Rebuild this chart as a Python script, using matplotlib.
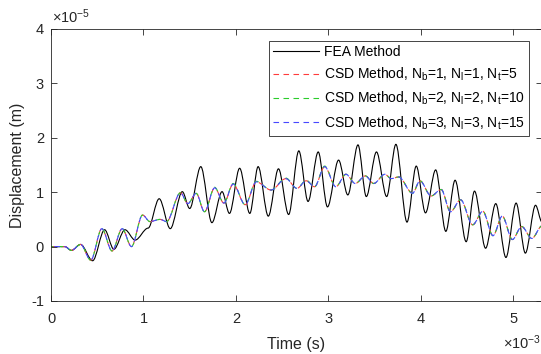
import matplotlib
matplotlib.use("Agg")
import matplotlib.pyplot as plt
from matplotlib.path import Path
from matplotlib.patches import PathPatch
from matplotlib.lines import Line2D

plt.rcParams['font.family'] = ['Liberation Sans', 'DejaVu Sans']
plt.rcParams['mathtext.fontset'] = 'custom'
plt.rcParams['mathtext.rm'] = 'Liberation Sans'
plt.rcParams['mathtext.it'] = 'Liberation Sans'
plt.rcParams['mathtext.bf'] = 'Liberation Sans:bold'

# ---- data (time in 1e-3 s, displacement in 1e-5 m), extrema ----
fea_t = [0, 0.15, 0.22, 0.32, 0.45, 0.58, 0.68, 0.80, 0.91, 1.05, 1.17, 1.29, 1.42, 1.50,
         1.62, 1.74, 1.85, 1.93, 2.04, 2.15, 2.24, 2.35, 2.46, 2.57, 2.68, 2.78, 2.89, 2.99,
         3.11, 3.21, 3.32, 3.41, 3.52, 3.63, 3.73, 3.85, 3.95, 4.05, 4.16, 4.27, 4.37, 4.49,
         4.58, 4.70, 4.81, 4.92, 5.03, 5.13, 5.24, 5.31]
fea_y = [0, 0, -0.07, 0.04, -0.26, 0.31, -0.05, 0.31, 0.12, 0.34, 0.88, 0.33, 1.01, 0.70,
         1.47, 0.44, 1.01, 0.61, 1.44, 0.61, 1.47, 0.56, 1.43, 0.59, 1.76, 0.83, 1.74, 0.73,
         1.59, 0.95, 1.87, 0.92, 1.74, 0.92, 1.88, 0.45, 1.48, 0.62, 1.41, 0.28, 1.22, 0.09,
         1.02, -0.03, 0.79, -0.20, 0.80, -0.12, 0.76, 0.45]

csd_t = [0, 0.15, 0.22, 0.32, 0.43, 0.55, 0.66, 0.77, 0.87, 0.99, 1.07, 1.18, 1.25, 1.40,
         1.48, 1.57, 1.66, 1.77, 1.87, 1.97, 2.10, 2.22, 2.38, 2.54, 2.66, 2.76, 2.85, 2.96,
         3.08, 3.19, 3.29, 3.40, 3.49, 3.61, 3.68, 3.76, 3.91, 3.99, 4.11, 4.22, 4.32, 4.43,
         4.56, 4.67, 4.78, 4.88, 4.99, 5.09, 5.20, 5.31]
csd1_y = [0, 0, -0.07, 0.04, -0.25, 0.33, -0.08, 0.33, 0.0, 0.58, 0.46, 0.50, 0.46, 0.99,
          0.79, 0.98, 0.64, 1.08, 0.80, 1.15, 0.77, 1.19, 1.04, 1.25, 1.07, 1.21, 1.10, 1.47,
          1.10, 1.33, 1.16, 1.30, 1.16, 1.33, 1.25, 1.28, 0.98, 1.21, 0.93, 1.05, 0.64, 0.86,
          0.40, 0.65, 0.20, 0.56, 0.13, 0.37, 0.15, 0.38]
csd2_y = [0, 0, -0.07, 0.04, -0.25, 0.33, -0.08, 0.33, 0.0, 0.58, 0.46, 0.50, 0.46, 0.99,
          0.79, 0.98, 0.64, 1.09, 0.80, 1.16, 0.77, 1.20, 1.04, 1.26, 1.07, 1.22, 1.10, 1.48,
          1.10, 1.33, 1.16, 1.30, 1.16, 1.33, 1.25, 1.28, 0.98, 1.21, 0.93, 1.05, 0.64, 0.86,
          0.40, 0.65, 0.20, 0.56, 0.13, 0.37, 0.15, 0.38]
csd3_y = [0, 0, -0.07, 0.04, -0.25, 0.33, -0.08, 0.33, 0.0, 0.58, 0.46, 0.50, 0.46, 0.99,
          0.79, 0.98, 0.64, 1.08, 0.80, 1.15, 0.77, 1.19, 1.04, 1.25, 1.07, 1.21, 1.10, 1.47,
          1.10, 1.33, 1.16, 1.30, 1.16, 1.33, 1.25, 1.28, 0.98, 1.21, 0.93, 1.05, 0.64, 0.86,
          0.40, 0.65, 0.20, 0.56, 0.13, 0.37, 0.15, 0.38]

labels = ['FEA Method',
          'CSD Method, N$_b$=1, N$_l$=1, N$_t$=5',
          'CSD Method, N$_b$=2, N$_l$=2, N$_t$=10',
          'CSD Method, N$_b$=3, N$_l$=3, N$_t$=15']
colors = ['#000000', '#ff3b3b', '#2ccc2c', '#4848ff']
dash_offsets = [0, 0, 3.0, 6.0]
x_ticks = [0, 1, 2, 3, 4, 5]
y_ticks = [-1, 0, 1, 2, 3, 4]


def smooth_path(t, y):
    verts = [(t[0], y[0])]
    codes = [Path.MOVETO]
    for i in range(len(t) - 1):
        d = (t[i + 1] - t[i]) / 3.0
        verts += [(t[i] + d, y[i]), (t[i + 1] - d, y[i + 1]), (t[i + 1], y[i + 1])]
        codes += [Path.CURVE4] * 3
    return Path(verts, codes)


W, H = 541, 354
fig = plt.figure(figsize=(W / 100, H / 100), dpi=100)
ax = fig.add_axes([51 / W, 1 - 301 / H, (542 - 51) / W, (301 - 29) / H])

series = [(fea_t, fea_y), (csd_t, csd1_y), (csd_t, csd2_y), (csd_t, csd3_y)]
for i, ((t, y), c) in enumerate(zip(series, colors)):
    ls = '-' if i == 0 else (dash_offsets[i], (5.0, 4.0))
    ax.add_patch(PathPatch(smooth_path(t, y), fill=False, edgecolor=c, lw=0.8, linestyle=ls))

ax.set_xlim(0, 5.31)
ax.set_ylim(-1, 4)
ax.set_xticks(x_ticks)
ax.set_yticks(y_ticks)
ax.set_xticklabels([str(v) for v in x_ticks])
ax.set_yticklabels([str(v) for v in y_ticks])
axc = '#262626'
for s in ax.spines.values():
    s.set_color(axc)
    s.set_linewidth(0.6)
ax.spines['right'].set_visible(False)
ax.tick_params(direction='in', length=4.5, width=0.6, colors=axc, labelsize=10.5,
               top=True, right=True)
ax.tick_params(axis='x', pad=8)
ax.tick_params(axis='y', pad=5)
ax.set_xlabel('Time (s)', fontsize=11.5, color=axc, labelpad=8)
ax.set_ylabel('Displacement (m)', fontsize=11.5, color=axc, labelpad=4)

fig.text(52 / W, 1 - 23 / H, r'$\times$10$^{-5}$', fontsize=10.5, color=axc, va='baseline', ha='left')
fig.text(503 / W, 1 - 349 / H, r'$\times$10$^{-3}$', fontsize=10.5, color=axc, va='baseline', ha='left')

handles = [Line2D([], [], color=c, lw=0.8, linestyle=('-' if i == 0 else (0, (5.0, 4.0))))
           for i, c in enumerate(colors)]
leg = ax.legend(handles, labels, loc='upper right', bbox_to_anchor=(529 / W, 1 - 40.5 / H),
                bbox_transform=fig.transFigure, fontsize=10, frameon=True, fancybox=False,
                handlelength=3.3, handletextpad=0.36, borderpad=0.3, labelspacing=0.5,
                borderaxespad=0)
leg.get_frame().set_edgecolor(axc)
leg.get_frame().set_linewidth(0.6)
leg.get_frame().set_alpha(1)

fig.savefig('out.png', dpi=100)
